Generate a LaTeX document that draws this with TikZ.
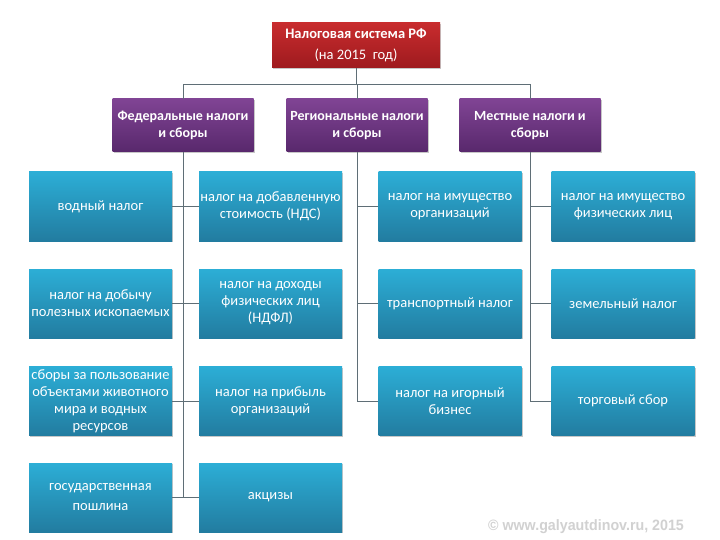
\documentclass[tikz,border=0pt]{standalone}
\usepackage{fontspec}
\setmainfont{Carlito}
\newfontfamily\wmfont{Liberation Sans}
\usetikzlibrary{shadows}
\definecolor{redtop}{RGB}{200,44,46}
\definecolor{redbot}{RGB}{158,26,30}
\definecolor{purtop}{RGB}{128,68,148}
\definecolor{purbot}{RGB}{88,40,108}
\definecolor{bluetop}{RGB}{44,174,214}
\definecolor{bluebot}{RGB}{34,124,160}
\definecolor{linec}{RGB}{95,110,118}
\tikzset{
  shad/.style={drop shadow={shadow xshift=1.2pt,shadow yshift=-1.2pt,fill=black,opacity=0.22}},
  topbox/.style={rectangle,shad,top color=redtop,bottom color=redbot,draw=none,
    minimum width=168pt,minimum height=45pt,inner sep=0pt,text=white,align=center,
    font=\fontsize{14.5}{21}\selectfont},
  catbox/.style={rectangle,shad,top color=purtop,bottom color=purbot,draw=none,
    minimum width=141pt,minimum height=53pt,inner sep=0pt,text=white,align=center,
    font=\bfseries\fontsize{14}{17}\selectfont},
  taxbox/.style={rectangle,shad,top color=bluetop,bottom color=bluebot,draw=none,
    minimum width=143pt,minimum height=69pt,inner sep=0pt,text=white,align=center,
    font=\fontsize{14.5}{17}\selectfont},
  conn/.style={draw=linec,line width=0.9pt}
}
\begin{document}
\begin{tikzpicture}[x=1pt,y=-1pt]
\useasboundingbox (0,0) rectangle (720,540);
\fill[white] (0,0) rectangle (720,540);
% top
\node[topbox] (top) at (356,45.5) {\textbf{Налоговая система РФ}\\(на 2015 \ год)};
% categories
\node[catbox] (fed) at (183,125.5) {Федеральные налоги\\и сборы};
\node[catbox] (reg) at (357,125.5) {Региональные налоги\\и сборы};
\node[catbox] (loc) at (530,125.5) {Местные налоги и\\сборы};
% federal taxes
\node[taxbox] (a1) at (100.5,206.5) {водный налог};
\node[taxbox] (b1) at (270.5,206.5) {налог на добавленную\\стоимость (НДС)};
\node[taxbox] (a2) at (100.5,303.5) {налог на добычу\\полезных ископаемых};
\node[taxbox] (b2) at (270.5,303.5) {налог на доходы\\физических лиц\\(НДФЛ)};
\node[taxbox] (a3) at (100.5,401) {сборы за пользование\\объектами животного\\мира и водных\\ресурсов};
\node[taxbox] (b3) at (270.5,401) {налог на прибыль\\организаций};
\node[taxbox,font=\fontsize{14.5}{20}\selectfont] (a4) at (100.5,497.5) {государственная\\пошлина};
\node[taxbox] (b4) at (270.5,497.5) {акцизы};
% regional taxes
\node[taxbox] (c1) at (450,206.5) {налог на имущество\\организаций};
\node[taxbox] (c2) at (450,303.5) {транспортный налог};
\node[taxbox] (c3) at (450,401) {налог на игорный\\бизнес};
% local taxes
\node[taxbox] (d1) at (623,206.5) {налог на имущество\\физических лиц};
\node[taxbox] (d2) at (623,303.5) {земельный налог};
\node[taxbox] (d3) at (623,401) {торговый сбор};
% bus
\coordinate (bus) at (0,84);
\draw[conn] (top.south) -- (top.south |- bus);
\draw[conn] (fed.north) |- (loc.north |- bus) -- (loc.north);
\draw[conn] (reg.north) -- (reg.north |- bus);
% federal trunk
\draw[conn] (fed.south) -- (fed.south |- a4.east);
\draw[conn] (a1.east) -- (b1.west);
\draw[conn] (a2.east) -- (b2.west);
\draw[conn] (a3.east) -- (b3.west);
\draw[conn] (a4.east) -- (b4.west);
% regional trunk
\draw[conn] (reg.south) -- (reg.south |- c3.west);
\draw[conn] (reg.south |- c1.west) -- (c1.west);
\draw[conn] (reg.south |- c2.west) -- (c2.west);
\draw[conn] (reg.south |- c3.west) -- (c3.west);
% local trunk
\draw[conn] (loc.south) -- (loc.south |- d3.west);
\draw[conn] (loc.south |- d1.west) -- (d1.west);
\draw[conn] (loc.south |- d2.west) -- (d2.west);
\draw[conn] (loc.south |- d3.west) -- (d3.west);
% watermark
\node[text=black!18,font=\wmfont\bfseries\fontsize{15}{16}\selectfont,inner sep=0pt,xscale=0.95] (wm) at (586,527) {© www.galyautdinov.ru, 2015};
\end{tikzpicture}
\end{document}
